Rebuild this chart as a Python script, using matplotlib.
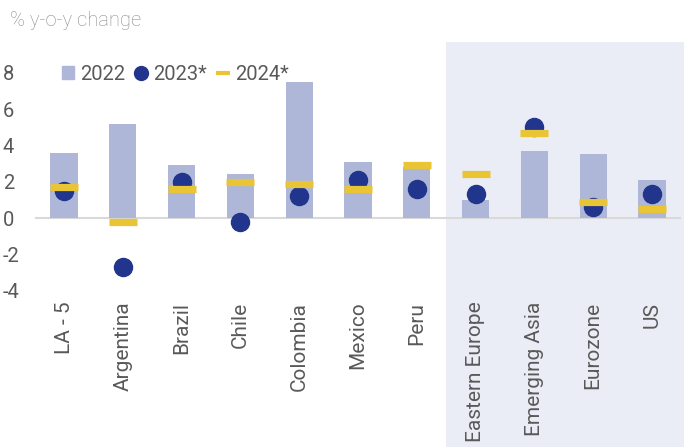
import matplotlib.pyplot as plt
from matplotlib.patches import Rectangle
from matplotlib.lines import Line2D

plt.rcParams['font.family'] = ['Roboto', 'DejaVu Sans']

# Datos / Data
countries = ['LA - 5', 'Argentina', 'Brazil', 'Chile', 'Colombia', 'Mexico', 'Peru',
             'Eastern Europe', 'Emerging Asia', 'Eurozone', 'US']
g2022 = [3.6, 5.2, 2.9, 2.4, 7.5, 3.1, 2.8, 1.0, 3.7, 3.5, 2.1]
g2023 = [1.5, -2.7, 2.0, -0.2, 1.2, 2.1, 1.6, 1.3, 5.0, 0.6, 1.3]
g2024 = [1.7, -0.2, 1.6, 2.0, 1.9, 1.6, 2.9, 2.4, 4.7, 0.9, 0.5]
yticks = [-4, -2, 0, 2, 4, 6, 8]

c_bar = '#aeb7d7'
c_dot = '#21358c'
c_dash = '#e9c535'
c_text = '#595959'

fig = plt.figure(figsize=(6.84, 4.47), dpi=100)

# Zona sombreada para economias no LatAm / shaded area for non LatAm
fig.patches.append(Rectangle((446 / 684, 0), 1 - 446 / 684, 1 - 42 / 447,
                             transform=fig.transFigure, facecolor='#eaedf5',
                             edgecolor='none', zorder=-5))

ax = fig.add_axes([34.6 / 684, 1 - 290.6 / 447, (681.4 - 34.6) / 684, (290.6 - 36.5) / 447])
ax.set_facecolor('none')

x = list(range(len(countries)))
ax.bar(x, g2022, width=0.46, color=c_bar, zorder=2)
ax.plot(x, g2023, 'o', color=c_dot, markersize=13, zorder=3)
ax.plot(x, g2024, '_', color=c_dash, markersize=20.5, markeredgewidth=5.2, zorder=4)
ax.axhline(0, color='#d9d9d9', linewidth=1.5, zorder=1)

ax.set_xlim(-0.5, len(countries) - 0.5)
ax.set_ylim(-4, 10)
ax.set_yticks(yticks)
ax.set_yticklabels([str(v) for v in yticks])
ax.set_xticks(x)
ax.set_xticklabels(countries, rotation=90)
ax.tick_params(length=0, labelsize=14.5, labelcolor=c_text)
ax.tick_params(axis='y', pad=-2)
ax.tick_params(axis='x', labelsize=15, pad=8)
for lbl in ax.get_yticklabels():
    lbl.set_horizontalalignment('left')
    lbl.set_x(-34.6 / (681.4 - 34.6))
for s in ax.spines.values():
    s.set_visible(False)

fig.text(10 / 684, 1 - 20 / 447, '% y-o-y change', fontsize=14.5, color='#8c8c8c',
         va='center', ha='left', fontweight='light')

handles = [Rectangle((0, 0), 1, 1, color=c_bar),
           Line2D([], [], marker='o', color=c_dot, linestyle='none', markersize=10),
           Line2D([], [], marker='_', color=c_dash, linestyle='none', markersize=10,
                  markeredgewidth=3)]
leg = fig.legend(handles, ['2022', '2023*', '2024*'], loc='center left',
                 bbox_to_anchor=(52 / 684, 1 - 74 / 447), ncol=3, frameon=False,
                 fontsize=14.5, handlelength=0.6, handleheight=0.6, handletextpad=0.3,
                 columnspacing=0.5, borderpad=0)
for t in leg.get_texts():
    t.set_color(c_text)

fig.savefig('out.png', dpi=100)
